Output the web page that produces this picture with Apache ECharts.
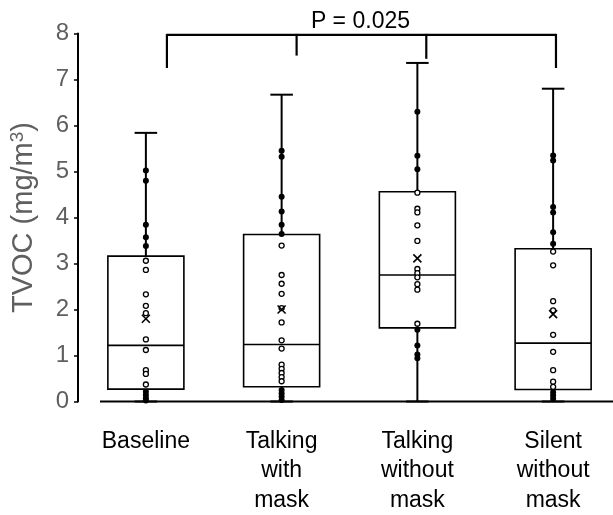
<!DOCTYPE html>
<html>
<head>
<meta charset="utf-8">
<script src="https://cdn.jsdelivr.net/npm/echarts@6/dist/echarts.min.js"></script>
<style>html,body{margin:0;padding:0;background:#fff;overflow:hidden}#wrap{width:613px;height:515px;overflow:hidden;position:relative}#c{width:621px;height:515px;position:absolute;left:0;top:0}</style>
</head>
<body>
<div id="wrap"><div id="c"></div></div>
<script>
const categories = ['Baseline', 'Talking\nwith\nmask', 'Talking\nwithout\nmask', 'Silent\nwithout\nmask'];
const yTicks = [0, 1, 2, 3, 4, 5, 6, 7, 8];
const whiskerLow = [0, 0, 0, 0];
const q1 = [0.27, 0.32, 1.60, 0.26];
const median = [1.22, 1.24, 2.75, 1.27];
const q3 = [3.16, 3.63, 4.56, 3.32];
const whiskerHigh = [5.84, 6.67, 7.36, 6.80];
const means = [1.80, 2.00, 3.11, 1.90];
const pointsBaseline = [5.02, 4.80, 3.84, 3.57, 3.38, 3.06, 2.86, 2.33, 2.08, 1.92, 1.35, 1.12, 0.68, 0.60, 0.37, 0.21, 0.14, 0.07, 0.02];
const pointsTalkingWithMask = [5.45, 5.32, 4.45, 4.13, 3.84, 3.64, 3.39, 2.75, 2.56, 2.34, 2.03, 1.72, 1.33, 1.15, 0.80, 0.71, 0.62, 0.53, 0.44, 0.25, 0.18, 0.11, 0.03];
const pointsTalkingWithoutMask = [6.30, 5.34, 5.05, 4.54, 4.19, 4.11, 3.83, 3.49, 2.88, 2.79, 2.70, 2.55, 2.43, 1.69, 1.56, 1.22, 1.02, 0.94];
const pointsSilentWithoutMask = [5.35, 5.24, 4.23, 4.11, 3.68, 3.43, 3.26, 2.96, 2.18, 1.98, 1.45, 1.08, 0.68, 0.43, 0.32, 0.20, 0.13, 0.06];
const bracketTop = 7.97;
const bracketLegBottoms = [7.25, 7.52, 7.45, 7.25];
const pLabel = 'P = 0.025';

const FONT = "'Liberation Sans', Arial, sans-serif";
const groups = [pointsBaseline, pointsTalkingWithMask, pointsTalkingWithoutMask, pointsSilentWithoutMask];
const boxData = categories.map((c, i) => [i, whiskerLow[i], q1[i], median[i], q3[i], whiskerHigh[i]]);
const filledPts = [], openPts = [];
groups.forEach((g, i) => g.forEach(v => {
  if (v > q3[i] || v < q1[i]) filledPts.push([i, v]); else openPts.push([i, v]);
}));
const meanData = means.map((m, i) => [i, m]);

function renderBox(params, api) {
  const i = api.value(0);
  const band = api.size([1, 0])[0];
  const half = band * 0.28;
  const cap = band * 0.083;
  const pLow = api.coord([i, api.value(1)]);
  const pQ1 = api.coord([i, api.value(2)]);
  const pMed = api.coord([i, api.value(3)]);
  const pQ3 = api.coord([i, api.value(4)]);
  const pHigh = api.coord([i, api.value(5)]);
  const x = pMed[0];
  const ls = {stroke: '#000', lineWidth: 2};
  const bs = {stroke: '#000', lineWidth: 1.6, fill: '#fff'};
  return {type: 'group', children: [
    {type: 'line', shape: {x1: x, y1: pHigh[1], x2: x, y2: pQ3[1]}, style: ls},
    {type: 'line', shape: {x1: x, y1: pLow[1], x2: x, y2: pQ1[1]}, style: ls},
    {type: 'line', shape: {x1: x - cap, y1: pHigh[1], x2: x + cap, y2: pHigh[1]}, style: ls},
    {type: 'line', shape: {x1: x - cap, y1: pLow[1], x2: x + cap, y2: pLow[1]}, style: ls},
    {type: 'rect', shape: {x: x - half, y: pQ3[1], width: 2 * half, height: pQ1[1] - pQ3[1]}, style: bs},
    {type: 'line', shape: {x1: x - half, y1: pMed[1], x2: x + half, y2: pMed[1]}, style: {stroke: '#000', lineWidth: 1.6}}
  ]};
}

function renderBracket(params, api) {
  const band = api.size([1, 0])[0];
  const c0 = api.coord([0, bracketTop]);
  const c3 = api.coord([categories.length - 1, bracketTop]);
  const leftX = c0[0] + band * 0.155;
  const rightX = c3[0] + band * 0.021;
  const n = bracketLegBottoms.length;
  const ls = {stroke: '#000', lineWidth: 2.2};
  const children = [{type: 'line', shape: {x1: leftX, y1: c0[1], x2: rightX, y2: c0[1]}, style: ls}];
  bracketLegBottoms.forEach((b, k) => {
    const lx = leftX + k * (rightX - leftX) / (n - 1);
    const yb = api.coord([0, b])[1];
    children.push({type: 'line', shape: {x1: lx, y1: c0[1] - 1, x2: lx, y2: yb}, style: ls});
  });
  children.push({type: 'text', style: {text: pLabel, x: (leftX + rightX) / 2 - 1, y: c0[1] - 2, textAlign: 'center', textVerticalAlign: 'bottom', fontSize: 23, fontFamily: FONT, fill: '#000'}});
  return {type: 'group', children};
}

const chart = echarts.init(document.getElementById('c'), null, {renderer: 'canvas'});
chart.setOption({
  animation: false,
  backgroundColor: '#fff',
  grid: {left: 78, top: 33.5, right: 0, bottom: 111.5, containLabel: false},
  xAxis: {
    type: 'category', data: categories,
    axisLine: {show: false}, axisTick: {show: false},
    axisLabel: {interval: 0, color: '#000', fontSize: 23, lineHeight: 29.5, margin: 25, fontFamily: FONT}
  },
  yAxis: {
    type: 'value', min: yTicks[0], max: yTicks[yTicks.length - 1], interval: 1,
    splitLine: {show: false},
    axisLine: {show: true, lineStyle: {color: '#000', width: 2}},
    axisTick: {show: true, length: 4, lineStyle: {color: '#000', width: 1.5}},
    axisLabel: {color: '#5f5f5f', fontSize: 24, margin: 9, fontFamily: FONT},
    name: 'TVOC (mg/m{sup|3})', nameLocation: 'middle', nameGap: 39,
    nameTextStyle: {color: '#5f5f5f', fontSize: 29, fontFamily: FONT, rich: {sup: {fontSize: 19, color: '#5f5f5f', fontFamily: FONT, padding: [0, 0, 12, 0]}}}
  },
  series: [
    {type: 'custom', renderItem: renderBox, data: boxData, z: 1},
    {type: 'custom', renderItem: renderBracket, data: [[0]], z: 1, clip: false},
    {type: 'scatter', data: openPts, symbol: 'circle', symbolSize: 5, z: 3,
     itemStyle: {color: '#fff', borderColor: '#000', borderWidth: 1.3, opacity: 1}},
    {type: 'scatter', data: filledPts, symbol: 'circle', symbolSize: 6, z: 3,
     itemStyle: {color: '#000', borderColor: '#000', borderWidth: 0, opacity: 1}},
    {type: 'scatter', data: meanData, symbol: 'path://M0,0L10,10M10,0L0,10', symbolSize: 8, z: 4,
     itemStyle: {color: 'none', borderColor: '#000', borderWidth: 1.6, opacity: 1}}
  ]
});
const y0 = chart.convertToPixel({yAxisIndex: 0}, 0);
chart.setOption({graphic: [{type: 'line', shape: {x1: 100, y1: y0, x2: 621, y2: y0}, style: {stroke: '#000', lineWidth: 2}, z: 0}]});
</script>
</body>
</html>
